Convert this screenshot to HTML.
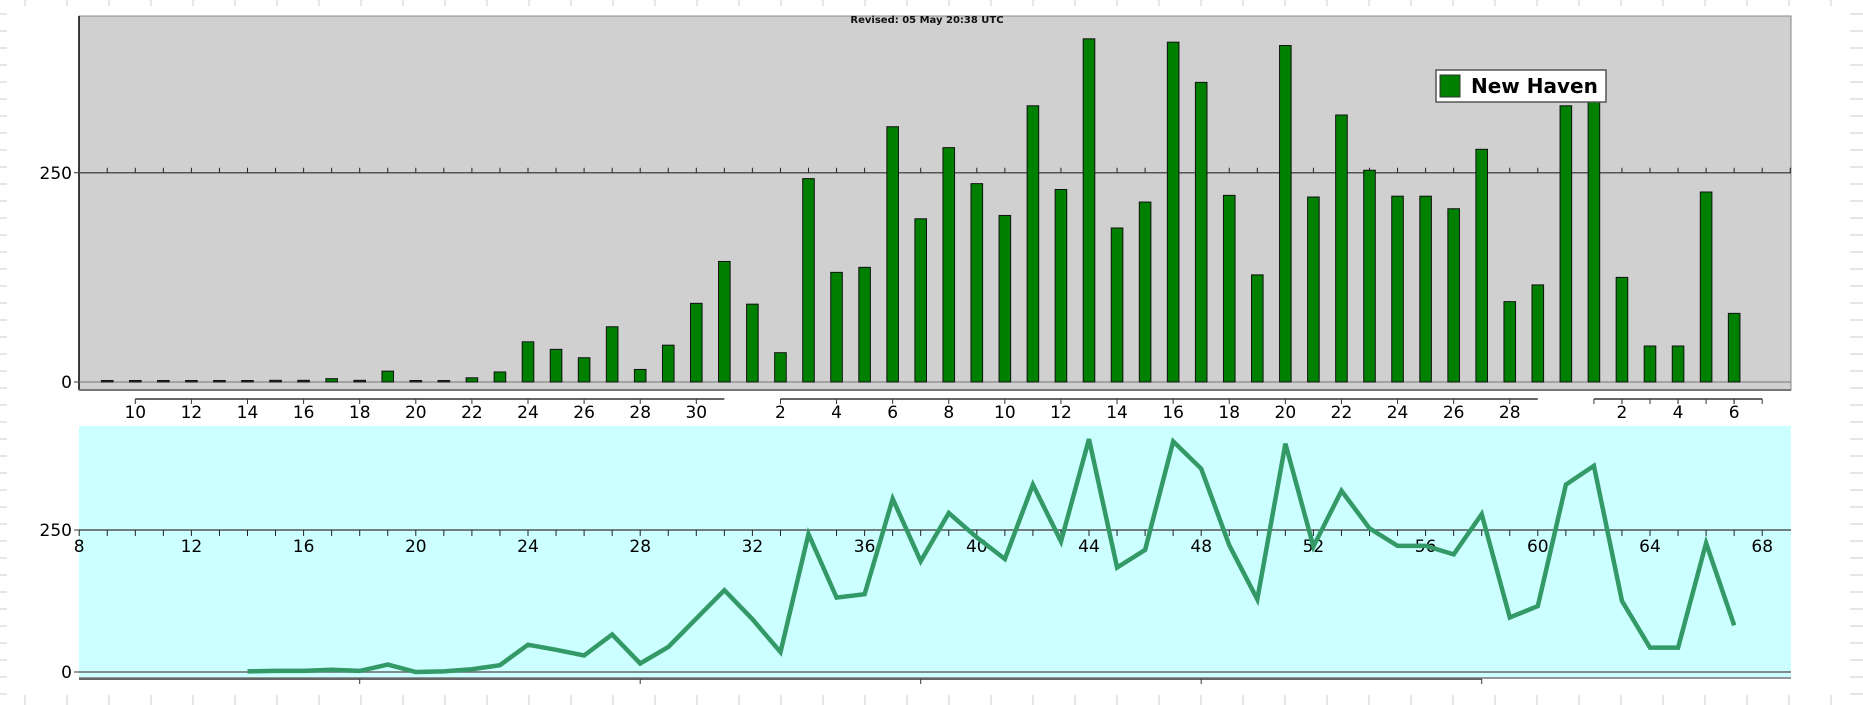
<!DOCTYPE html>
<html><head><meta charset="utf-8"><style>
html,body{margin:0;padding:0;background:#fff;}
svg{display:block;font-family:"DejaVu Sans","Liberation Sans",sans-serif;}
</style></head><body>
<svg id="chart" width="1863" height="705" viewBox="0 0 1863 705" xmlns="http://www.w3.org/2000/svg">
<g id="bggrid"></g>
<rect x="79" y="16" width="1712" height="374" fill="#d0d0d0" stroke="#888" stroke-width="1"/>
<line x1="79" y1="16" x2="79" y2="390" stroke="#000" stroke-width="1.5"/>
<text x="927" y="23" font-size="10" font-weight="bold" text-anchor="middle" fill="#111">Revised: 05 May 20:38 UTC</text>
<g id="topg"></g>
<rect x="79" y="426" width="1712" height="252" fill="#ccffff"/>
<g id="botg"></g>
<g>
<rect x="1436" y="70" width="170" height="32" fill="#fff" stroke="#555" stroke-width="1.5"/>
<rect x="1440" y="75" width="20" height="22" fill="#008000" stroke="#333"/>
<text x="1471" y="93" font-size="20" font-weight="bold" fill="#000">New Haven</text>
</g>
</svg>
<script>
// day index: March d = d, April d = 31+d, May d = 61+d
const days = [9,10,11,12,13,14,15,16,17,18,19,20,21,22,23,24,25,26,27,28,29,30,31,
 32,33,34,35,36,37,38,39,40,41,42,43,44,45,46,47,48,49,50,51,52,53,54,55,56,57,58,59,60,61,
 62,63,64,65,66,67];
const cases = [0,0,0,0,0,1,2,2,4,2,13,0,1,5,12,48,39,29,66,15,44,94,144,
 93,35,243,131,137,305,195,280,237,199,330,230,410,184,215,406,358,223,128,402,221,319,253,222,222,207,278,96,116,330,
 363,125,43,43,227,82];
const yTicks = [0,250];
const topLabelsMar = [10,12,14,16,18,20,22,24,26,28,30];
const topLabelsApr = [2,4,6,8,10,12,14,16,18,20,22,24,26,28];
const topLabelsMay = [2,4,6];
const botTickLabels = [8,12,16,20,24,28,32,36,40,44,48,52,56,60,64,68];

const NS="http://www.w3.org/2000/svg";
function mk(tag,attrs,parent,text){const e=document.createElementNS(NS,tag);for(const k in attrs)e.setAttribute(k,attrs[k]);if(text!==undefined)e.textContent=text;parent.appendChild(e);return e;}
const X = i => 79.2 + (i-8)*28.05;
const Yt = v => 382 - v*0.837;
const Yb = v => 672 - v*0.568;

const bg=document.getElementById('bggrid');
for(let y=14;y<700;y+=17){mk('line',{x1:0,y1:y,x2:7,y2:y,stroke:'#ccc'},bg);mk('line',{x1:1850,y1:y,x2:1863,y2:y,stroke:'#ccc'},bg);}
for(let x=25;x<1863;x+=42){mk('line',{x1:x,y1:0,x2:x,y2:6,stroke:'#ccc'},bg);mk('line',{x1:x,y1:695,x2:x,y2:705,stroke:'#ccc'},bg);}

const topG=document.getElementById('topg');
mk('line',{x1:79,y1:Yt(250),x2:1791,y2:Yt(250),stroke:'#555','stroke-width':1.5},topG);
for(let i=9;i<=69;i++) mk('line',{x1:X(i),y1:Yt(250),x2:X(i),y2:Yt(250)-5,stroke:'#222'},topG);
mk('line',{x1:79,y1:Yt(0),x2:1791,y2:Yt(0),stroke:'#777','stroke-width':1},topG);
mk('line',{x1:79,y1:390,x2:1791,y2:390,stroke:'#777','stroke-width':2},topG);
yTicks.forEach(v=>{
  mk('line',{x1:74,y1:Yt(v),x2:79,y2:Yt(v),stroke:'#333'},topG);
  const t=mk('text',{x:72,y:Yt(v)+6,'font-size':17,'text-anchor':'end',fill:'#000'},topG,String(v));
  
  
});
days.forEach((d,k)=>{
  const v=cases[k], x=X(d), h=Math.max(v*0.837,1.5);
  const r=mk('rect',{x:x-5.8,y:Yt(0)-h,width:11.6,height:h,fill:v<3?'#333':'#008000',stroke:'#111','stroke-width':1},topG);
  
  
});
function seg(a,b,labels,off,every){
  mk('line',{x1:X(a),y1:399,x2:X(b),y2:399,stroke:'#666','stroke-width':2},topG);
  if(every){for(let i=a;i<=b;i++)mk('line',{x1:X(i),y1:399,x2:X(i),y2:404,stroke:'#333'},topG);}
  labels.forEach(l=>{
    mk('line',{x1:X(l+off),y1:399,x2:X(l+off),y2:404,stroke:'#333'},topG);
    const t=mk('text',{x:X(l+off),y:418,'font-size':17,'text-anchor':'middle',fill:'#000'},topG,String(l));
    
    
  });
}
seg(10,31,topLabelsMar,0,false);
seg(33,60,topLabelsApr,31,false);
seg(62,68,topLabelsMay,61,true);

const botG=document.getElementById('botg');
mk('line',{x1:79,y1:Yb(250),x2:1791,y2:Yb(250),stroke:'#555','stroke-width':1.5},botG);
for(let i=8;i<=68;i++) mk('line',{x1:X(i),y1:Yb(250),x2:X(i),y2:Yb(250)+6,stroke:'#222'},botG);
botTickLabels.forEach(l=>{
  const t=mk('text',{x:X(l),y:552,'font-size':17,'text-anchor':'middle',fill:'#000'},botG,String(l));
  
  
});
mk('line',{x1:79,y1:Yb(0),x2:1791,y2:Yb(0),stroke:'#666','stroke-width':1.5},botG);
mk('line',{x1:79,y1:678,x2:1791,y2:678,stroke:'#777','stroke-width':1.5},botG);
mk('line',{x1:79,y1:679,x2:X(58),y2:679,stroke:'#666','stroke-width':2},botG);
[18,28,38,48,58].forEach(i=>mk('line',{x1:X(i),y1:679,x2:X(i),y2:684,stroke:'#333'},botG));
yTicks.forEach(v=>{
  mk('line',{x1:74,y1:Yb(v),x2:79,y2:Yb(v),stroke:'#333'},botG);
  const t=mk('text',{x:72,y:Yb(v)+6,'font-size':17,'text-anchor':'end',fill:'#000'},botG,String(v));
  
  
});
let pts=[];
days.forEach((d,k)=>{ if(d>=14) pts.push(X(d).toFixed(1)+','+Yb(cases[k]).toFixed(1)); });
const pl=mk('polyline',{points:pts.join(' '),fill:'none',stroke:'#339966','stroke-width':4.5,'stroke-linejoin':'miter'},botG);


</script>
</body></html>
